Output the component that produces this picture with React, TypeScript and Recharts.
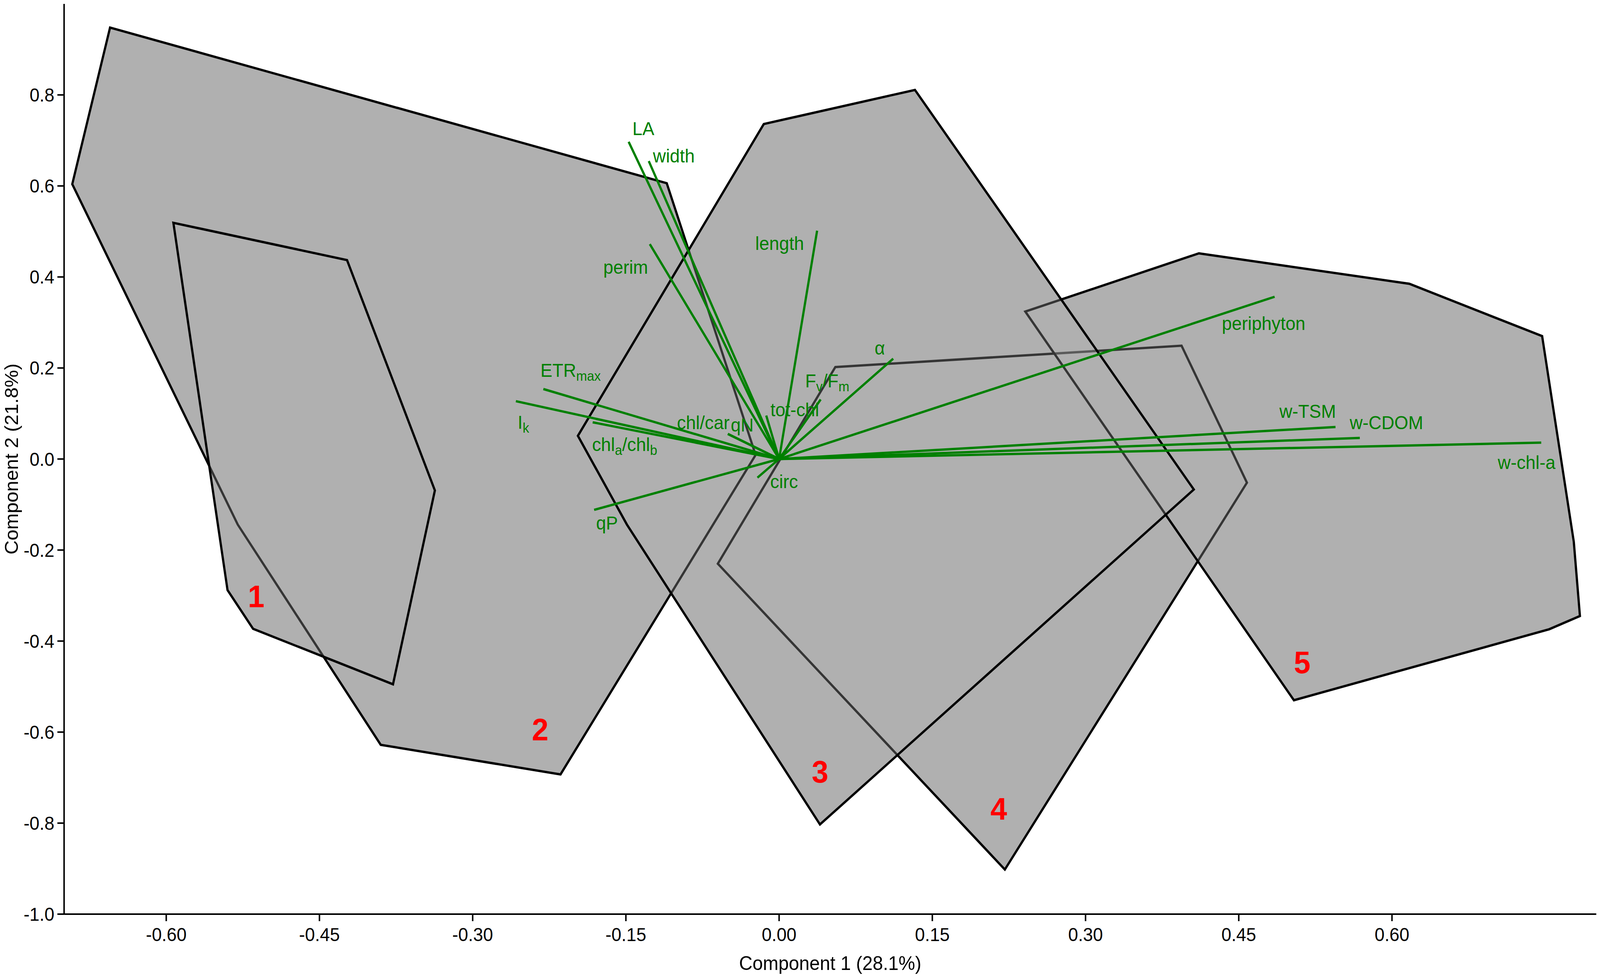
import React from "react";
import { ScatterChart, Scatter, XAxis, YAxis } from "recharts";

const FONT = '"Liberation Sans", Arial, Helvetica, sans-serif';
const GREEN = "#008000";
const HULL_FILL = "#b0b0b0";
const W = 4294;
const H = 2502;

// axis ticks
const xTicks = [-0.6, -0.45, -0.3, -0.15, 0, 0.15, 0.3, 0.45, 0.6];
const yTicks = [-1.0, -0.8, -0.6, -0.4, -0.2, 0, 0.2, 0.4, 0.6, 0.8];

// convex hulls of the groups (Component 1, Component 2)
const hull1X = [-0.593, -0.423, -0.337, -0.378, -0.515, -0.54];
const hull1Y = [0.519, 0.437, -0.069, -0.495, -0.373, -0.288];

const hull2X = [-0.655, -0.11, -0.023, -0.214, -0.39, -0.53, -0.692];
const hull2Y = [0.948, 0.606, 0.009, -0.693, -0.628, -0.144, 0.604];

const hull3X = [-0.015, 0.133, 0.406, 0.04, -0.149, -0.197];
const hull3Y = [0.736, 0.811, -0.067, -0.803, -0.144, 0.051];

const hull4X = [0.055, 0.394, 0.458, 0.221, -0.06];
const hull4Y = [0.202, 0.249, -0.052, -0.902, -0.23];

const hull5X = [0.241, 0.411, 0.617, 0.747, 0.778, 0.784, 0.754, 0.504];
const hull5Y = [0.324, 0.452, 0.385, 0.27, -0.182, -0.345, -0.374, -0.53];

// group numbers
const groupNames = ["1", "2", "3", "4", "5"];
const groupLabelX = [-0.512, -0.234, 0.04, 0.215, 0.512];
const groupLabelY = [-0.302, -0.594, -0.687, -0.768, -0.447];

// loadings (biplot vectors)
const varNames = [
  "LA", "width", "perim", "length", "ETR_{max}", "I_{k}", "chl_{a}/chl_{b}",
  "chl/car", "qN", "tot-chl", "F_{v}/F_{m}", "α", "periphyton",
  "w-TSM", "w-CDOM", "w-chl-a", "qP", "circ",
];
const varX = [
  -0.1473, -0.1276, -0.1266, 0.0372, -0.2308, -0.2577, -0.1825,
  -0.0502, -0.0502, -0.0126, 0.0407, 0.1117, 0.4851,
  0.5447, 0.5685, 0.7461, -0.1811, -0.0212,
];
const varY = [
  0.697, 0.6546, 0.4723, 0.5017, 0.1538, 0.1271, 0.0807,
  0.0552, 0.0552, 0.0956, 0.1308, 0.2205, 0.3565,
  0.0704, 0.0464, 0.036, -0.1117, -0.041,
];
// where each variable's name is written (left edge, middle of capitals)
const varLabelX = [
  -0.1436, -0.1235, -0.1721, -0.0233, -0.2337, -0.2559, -0.1831,
  -0.1, -0.0473, -0.0085, 0.0255, 0.0935, 0.4335,
  0.4898, 0.5586, 0.7036, -0.1792, -0.0087,
];
const varLabelY = [
  0.7259, 0.6662, 0.4218, 0.4742, 0.195, 0.0812, 0.0323,
  0.0799, 0.0752, 0.1087, 0.1718, 0.244, 0.2981,
  0.1048, 0.0799, -0.0077, -0.14, -0.049,
];

const toPoints = (xs: number[], ys: number[]) => xs.map((x, i) => ({ x, y: ys[i] }));

const hulls = [
  toPoints(hull1X, hull1Y),
  toPoints(hull2X, hull2Y),
  toPoints(hull3X, hull3Y),
  toPoints(hull4X, hull4Y),
  toPoints(hull5X, hull5Y),
];
// outlines are stacked in this order (later hulls veil earlier outlines)
const outlineOrder = [1, 0, 3, 4, 2];

const groupLabels = groupNames.map((name, i) => ({ x: groupLabelX[i], y: groupLabelY[i], name }));
const varLabels = varNames.map((name, i) => ({ x: varLabelX[i], y: varLabelY[i], name }));

const noDot = () => <g />;

const hullShape = (fill: string, fillOpacity: number, stroke: string) => (p: any) => (
  <polygon
    points={(p.points || []).map((q: any) => `${q.x},${q.y}`).join(" ")}
    fill={fill}
    fillOpacity={fillOpacity}
    stroke={stroke}
    strokeWidth={6}
    strokeLinejoin="miter"
  />
);

// text with "_{...}" parts written as subscripts
function RichText({ cx, cy, text }: { cx: number; cy: number; text: string }) {
  const parts = text.split(/(_\{[^}]*\})/).filter(Boolean);
  let down = false;
  return (
    <text x={cx} y={cy + 17} fill={GREEN} fontSize={48} fontFamily={FONT}>
      {parts.map((part, i) => {
        const sub = part.startsWith("_{");
        const dy = sub ? (down ? 0 : 10) : down ? -10 : 0;
        down = sub;
        return (
          <tspan key={i} dy={dy} fontSize={sub ? 35 : undefined}>
            {sub ? part.slice(2, -1) : part}
          </tspan>
        );
      })}
    </text>
  );
}

const varLabelShape = (p: any) => <RichText cx={p.cx} cy={p.cy} text={p.payload.name} />;

const groupLabelShape = (p: any) => (
  <text
    x={p.cx}
    y={p.cy + 28}
    textAnchor="middle"
    fill="#ff0000"
    fontSize={80}
    fontWeight="bold"
    fontFamily={FONT}
  >
    {p.payload.name}
  </text>
);

const yTitle = (p: any) => {
  const vb = p.viewBox || { x: 0, y: 10, width: 172, height: 2331 };
  const cx = vb.x + 30;
  const cy = vb.y + vb.height / 2;
  return (
    <text
      x={cx}
      y={cy}
      dy={18}
      transform={`rotate(-90 ${cx} ${cy})`}
      textAnchor="middle"
      fill="#000"
      fontSize={50}
      fontFamily={FONT}
    >
      Component 2 (21.8%)
    </text>
  );
};

export default function App() {
  // fit the drawing exactly into the viewport the page really has
  const vw = typeof window !== "undefined" ? window.innerWidth : W;
  const vh = typeof window !== "undefined" ? window.innerHeight : H;
  const sx = vw / W;
  const sy = vh / H;

  return (
    <div
      style={{
        position: "fixed",
        left: 0,
        top: 0,
        width: vw,
        height: vh,
        overflow: "hidden",
        background: "#fff",
      }}
    >
      <div style={{ width: W, height: H, transform: `scale(${sx}, ${sy})`, transformOrigin: "0 0" }}>
        <ScatterChart width={W} height={H} margin={{ top: 10, right: 10, left: 0, bottom: 0 }}>
          <XAxis
            type="number"
            dataKey="x"
            domain={[-0.7, 0.8]}
            ticks={xTicks}
            interval={0}
            allowDataOverflow
            height={161}
            tickSize={18}
            tickMargin={17}
            tickFormatter={(v: number) => v.toFixed(2)}
            axisLine={{ stroke: "#000", strokeWidth: 4 }}
            tickLine={{ stroke: "#000", strokeWidth: 4 }}
            tick={{ fill: "#000", fontSize: 48, fontFamily: FONT }}
            label={{
              value: "Component 1 (28.1%)",
              position: "insideBottom",
              offset: 18,
              fill: "#000",
              fontSize: 50,
              fontFamily: FONT,
            }}
          />
          <YAxis
            type="number"
            dataKey="y"
            domain={[-1, 1]}
            ticks={yTicks}
            interval={0}
            allowDataOverflow
            width={172}
            tickSize={18}
            tickMargin={8}
            tickFormatter={(v: number) => v.toFixed(1)}
            axisLine={{ stroke: "#000", strokeWidth: 4 }}
            tickLine={{ stroke: "#000", strokeWidth: 4 }}
            tick={{ fill: "#000", fontSize: 48, fontFamily: FONT }}
            label={{ content: yTitle }}
          />

          {/* opaque grey under all hulls */}
          {hulls.map((pts, i) => (
            <Scatter
              key={`fill-${i}`}
              data={pts}
              shape={noDot}
              line={hullShape(HULL_FILL, 1, "none")}
              isAnimationActive={false}
            />
          ))}

          {/* translucent hulls with black outlines */}
          {outlineOrder.map((i) => (
            <Scatter
              key={`hull-${i}`}
              data={hulls[i]}
              shape={noDot}
              line={hullShape(HULL_FILL, 0.3, "#000")}
              isAnimationActive={false}
            />
          ))}

          {/* loading vectors */}
          {varNames.map((name, i) => (
            <Scatter
              key={`vec-${name}-${i}`}
              data={[{ x: 0, y: 0 }, { x: varX[i], y: varY[i] }]}
              shape={noDot}
              line={{ stroke: GREEN, strokeWidth: 6 }}
              isAnimationActive={false}
            />
          ))}

          <Scatter data={varLabels} shape={varLabelShape} isAnimationActive={false} />
          <Scatter data={groupLabels} shape={groupLabelShape} isAnimationActive={false} />
        </ScatterChart>
      </div>
    </div>
  );
}
